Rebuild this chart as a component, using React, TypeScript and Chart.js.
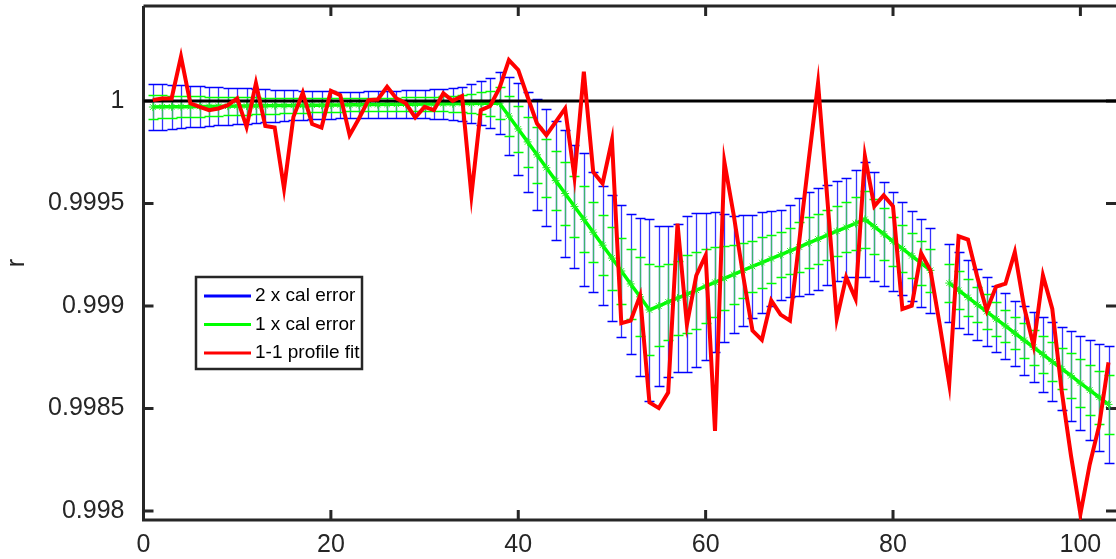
import React, { useEffect, useRef } from "react";
import { Chart, registerables } from "chart.js";

Chart.register(...registerables);

// ---------------- data ----------------
const xValues = [
  1, 2, 3, 4, 5, 6, 7, 8, 9, 10,
  11, 12, 13, 14, 15, 16, 17, 18, 19, 20,
  21, 22, 23, 24, 25, 26, 27, 28, 29, 30,
  31, 32, 33, 34, 35, 36, 37, 38, 39, 40,
  41, 42, 43, 44, 45, 46, 47, 48, 49, 50,
  51, 52, 53, 54, 55, 56, 57, 58, 59, 60,
  61, 62, 63, 64, 65, 66, 67, 68, 69, 70,
  71, 72, 73, 74, 75, 76, 77, 78, 79, 80,
  81, 82, 83, 84, 85, 86, 87, 88, 89, 90,
  91, 92, 93, 94, 95, 96, 97, 98, 99, 100,
  101, 102, 103,
];

// calibration curve (centre of the error bars)
const calCenter: (number | null)[] = [
  0.999971, 0.999972, 0.999972, 0.999973, 0.999973, 0.999974, 0.999974, 0.999975, 0.999975, 0.999976,
  0.999976, 0.999977, 0.999977, 0.999978, 0.999978, 0.999979, 0.999979, 0.99998, 0.99998, 0.999981,
  0.999981, 0.999982, 0.999982, 0.999983, 0.999983, 0.999984, 0.999984, 0.999985, 0.999985, 0.999986,
  0.999986, 0.999987, 0.999987, 0.999988, 0.999988, 0.999989, 0.99999, 0.99999, 0.999927, 0.999864,
  0.999801, 0.999738, 0.999675, 0.999612, 0.999549, 0.999486, 0.999423, 0.99936, 0.999297, 0.999234,
  0.999171, 0.999108, 0.999045, 0.998981, 0.999, 0.99902, 0.999039, 0.999058, 0.999077, 0.999097,
  0.999116, 0.999135, 0.999154, 0.999174, 0.999193, 0.999212, 0.999231, 0.99925, 0.999269, 0.999288,
  0.999308, 0.999327, 0.999346, 0.999365, 0.999384, 0.999403, 0.999423, 0.999387, 0.999352, 0.999316,
  0.99928, 0.999245, 0.999209, 0.999174, null, 0.999112, 0.999077, 0.999042, 0.999007, 0.998973,
  0.998937, 0.998903, 0.998868, 0.998833, 0.998799, 0.998764, 0.998729, 0.998694, 0.99866, 0.998624,
  0.99859, 0.998555, 0.99852,
];

// 1 x calibration error, in units of 1e-6
const calErrorPpm: (number | null)[] = [
  57, 55.5, 53.8, 52.3, 50.9, 49.4, 47.9, 46.5, 45.2, 44,
  42.8, 41.6, 40.3, 39.1, 37.9, 36.7, 35.7, 34.7, 33.7, 33,
  32.5, 32.3, 32.3, 32.3, 32.5, 32.8, 33.3, 33.7, 34.2, 35,
  35.9, 37.2, 39.1, 41.6, 46.5, 53.8, 61.1, 76.5, 95.6, 113,
  122.3, 135.5, 142.3, 145.7, 155, 150.4, 161.4, 146.7, 145.5, 154,
  161.6, 170.7, 192.2, 221.8, 195.6, 184.1, 181.4, 189.5, 188.3, 179.5,
  170.9, 156, 141.8, 134.5, 126.2, 122.5, 116.6, 110, 112.5, 119.8,
  124.5, 124, 121.5, 121.8, 121.3, 129.6, 140.1, 133.5, 126.9, 120.3,
  113.7, 109.5, 106.8, 103.4, null, 94.6, 93.2, 90.2, 87.3, 84.1,
  81.4, 80, 79.5, 84.6, 85.6, 90.7, 95.8, 101, 110.3, 115.6,
  122.5, 130.1, 143.3,
];

// 1-1 profile fit
const profileFit: number[] = [
  1.000005, 1.000013, 1.000013, 1.000217, 0.999989, 0.999972, 0.999956, 0.999964, 0.99998, 1.000013,
  0.999874, 1.000087, 0.999878, 0.999871, 0.999573, 0.999923, 1.000041, 0.999888, 0.999871, 1.00005,
  1.000029, 0.999834, 0.999915, 1.000005, 1.000008, 1.00007, 1.000013, 0.999989, 0.99992, 0.999972,
  0.999956, 1.000038, 1.000001, 1.000024, 0.99954, 0.999956, 0.999976, 1.000064, 1.0002, 1.000152,
  1.00002, 0.999891, 0.999834, 0.999899, 0.999964, 0.99963, 1.000143, 0.999654, 0.999598, 0.999809,
  0.998916, 0.998929, 0.999051, 0.99853, 0.998502, 0.998578, 0.999402, 0.99891, 0.999149, 0.999247,
  0.998391, 0.999703, 0.999443, 0.999149, 0.99888, 0.998835, 0.999027, 0.998958, 0.998929, 0.99932,
  0.999711, 1.000087, 0.999516, 0.998937, 0.999141, 0.999035, 0.999731, 0.999487, 0.99954, 0.999487,
  0.998986, 0.999002, 0.999258, 0.999174, 0.998905, 0.99862, 0.99934, 0.999324, 0.999141, 0.998978,
  0.999095, 0.999109, 0.999263, 0.998994, 0.998807, 0.999149, 0.998986, 0.998587, 0.998269, 0.997985,
  0.998228, 0.998416, 0.998725,
];

// reference line r = 1
const refLineX = [0, 104];
const refLineY = [1, 1];

const xTicks = [0, 20, 40, 60, 80, 100];
const xTickLabels = ["0", "20", "40", "60", "80", "100"];
const yTicks = [0.998, 0.9985, 0.999, 0.9995, 1];
const yTickLabels = ["0.998", "0.9985", "0.999", "0.9995", "1"];

const xRange = [0, 103.8];
const yRange = [0.997956, 1.000464];

const legendLabels = ["2 x cal error", "1 x cal error", "1-1 profile fit"];
const errorMultipliers = [2, 1];

// ---------------- styles ----------------
const FONT = "'Liberation Sans', Arial, Helvetica, sans-serif";
const AXIS_COLOR = "#262626";
const BLUE = "#0000ff";
const GREEN = "#00ff00";
const RED = "#ff0000";
const legendColors = [BLUE, GREEN, RED];

const errorBarPlugin = {
  id: "calErrorBars",
  beforeDatasetsDraw(chart: any) {
    const { ctx, chartArea, scales } = chart;
    const xs = scales.x;
    const ys = scales.y;
    ctx.save();
    ctx.beginPath();
    ctx.rect(chartArea.left, chartArea.top, chartArea.right - chartArea.left, chartArea.bottom - chartArea.top);
    ctx.clip();
    const drawBars = (mult: number, capColor: string, stemColor: string) => {
      ctx.lineWidth = 1.3;
      const cap = 5;
      const stems = new Path2D();
      const caps = new Path2D();
      xValues.forEach((xv, i) => {
        const c = calCenter[i];
        const e = calErrorPpm[i];
        if (c == null || e == null) return;
        const px = Math.round(xs.getPixelForValue(xv)) + 0.5;
        const yt = Math.round(ys.getPixelForValue(c + mult * e * 1e-6)) + 0.5;
        const yb = Math.round(ys.getPixelForValue(c - mult * e * 1e-6)) + 0.5;
        stems.moveTo(px, yt);
        stems.lineTo(px, yb);
        caps.moveTo(px - cap, yt);
        caps.lineTo(px + cap, yt);
        caps.moveTo(px - cap, yb);
        caps.lineTo(px + cap, yb);
      });
      ctx.strokeStyle = stemColor;
      ctx.stroke(stems);
      ctx.strokeStyle = capColor;
      ctx.stroke(caps);
    };
    drawBars(errorMultipliers[0], BLUE, "#3333ff");
    drawBars(errorMultipliers[1], GREEN, "#3cb46e");
    ctx.restore();
  },
};

const axesPlugin = {
  id: "boxAxes",
  beforeDatasetsDraw(chart: any) {
    const { ctx, chartArea, scales } = chart;
    const { left, right, top, bottom } = chartArea;
    const tl = 10;
    ctx.save();
    ctx.strokeStyle = AXIS_COLOR;
    ctx.lineWidth = 3;
    ctx.beginPath();
    ctx.moveTo(left, top);
    ctx.lineTo(left, bottom);
    ctx.lineTo(right + 2, bottom);
    ctx.moveTo(left, top);
    ctx.lineTo(right + 2, top);
    ctx.moveTo(right + 1.5, top);
    ctx.lineTo(right + 1.5, bottom);
    xTicks.forEach((v) => {
      const px = scales.x.getPixelForValue(v);
      ctx.moveTo(px, bottom);
      ctx.lineTo(px, bottom - tl);
      ctx.moveTo(px, top);
      ctx.lineTo(px, top + tl);
    });
    yTicks.forEach((v) => {
      const py = scales.y.getPixelForValue(v);
      ctx.moveTo(left, py);
      ctx.lineTo(left + tl, py);
      ctx.moveTo(right, py);
      ctx.lineTo(right - tl, py);
    });
    ctx.stroke();
    ctx.restore();
  },
};

const legendPlugin = {
  id: "boxLegend",
  afterDraw(chart: any) {
    const { ctx, chartArea } = chart;
    const left = chartArea.left + 52.5;
    const top = chartArea.top + 271;
    const w = 166;
    const h = 92;
    ctx.save();
    ctx.fillStyle = "#ffffff";
    ctx.fillRect(left, top, w, h);
    ctx.strokeStyle = AXIS_COLOR;
    ctx.lineWidth = 2.5;
    ctx.strokeRect(left, top, w, h);
    ctx.font = `19px ${FONT}`;
    ctx.textBaseline = "middle";
    ctx.textAlign = "left";
    legendLabels.forEach((lab, i) => {
      const cy = top + 19 + i * 28.5;
      ctx.strokeStyle = legendColors[i];
      ctx.lineWidth = 3;
      ctx.beginPath();
      ctx.moveTo(left + 8, cy);
      ctx.lineTo(left + 55, cy);
      ctx.stroke();
      ctx.fillStyle = "#000000";
      ctx.fillText(lab, left + 59, cy);
    });
    ctx.restore();
  },
};

export default function App() {
  const ref = useRef<HTMLCanvasElement>(null);

  useEffect(() => {
    document.body.style.margin = "0";
    const canvas = ref.current;
    if (!canvas) return;

    const fitData = xValues.map((x, i) => ({ x, y: profileFit[i] }));
    const calData = xValues.map((x, i) => ({ x, y: calCenter[i] }));
    const refData = refLineX.map((x, i) => ({ x, y: refLineY[i] }));

    const chart = new Chart(canvas, {
      type: "line",
      data: {
        datasets: [
          {
            label: legendLabels[2],
            data: fitData,
            borderColor: RED,
            backgroundColor: RED,
            borderWidth: 4,
            pointRadius: 0,
            tension: 0,
            borderJoinStyle: "miter",
          },
          {
            label: "r = 1",
            data: refData,
            borderColor: "#000000",
            borderWidth: 3,
            pointRadius: 0,
          },
          {
            label: legendLabels[1],
            data: calData as any,
            borderColor: GREEN,
            backgroundColor: GREEN,
            borderWidth: 3.5,
            pointStyle: "star",
            pointRadius: 4,
            pointBorderColor: "#22ee22",
            pointBorderWidth: 1,
            spanGaps: false,
          },
        ],
      },
      options: {
        animation: false,
        responsive: false,
        devicePixelRatio: 1,
        parsing: false as any,
        normalized: true,
        layout: { autoPadding: false, padding: { top: 6, left: 0, right: 0, bottom: 0 } },
        plugins: {
          legend: { display: false },
          tooltip: { enabled: false },
        },
        scales: {
          x: {
            type: "linear",
            min: xRange[0],
            max: xRange[1],
            grid: { display: false, drawTicks: false },
            border: { display: false },
            ticks: {
              font: { family: FONT, size: 25 },
              color: AXIS_COLOR,
              padding: 10,
              maxRotation: 0,
              autoSkip: false,
              callback: (v: any) => {
                const i = xTicks.indexOf(Number(v));
                return i >= 0 ? xTickLabels[i] : "";
              },
            },
            afterBuildTicks: (s: any) => {
              s.ticks = xTicks.map((v) => ({ value: v }));
            },
            afterFit: (s: any) => {
              s.height = 39;
              s.paddingLeft = 0;
              s.paddingRight = 0;
            },
          },
          y: {
            type: "linear",
            min: yRange[0],
            max: yRange[1],
            grid: { display: false, drawTicks: false },
            border: { display: false },
            ticks: {
              font: { family: FONT, size: 25 },
              color: AXIS_COLOR,
              padding: 19,
              autoSkip: false,
              callback: (v: any) => {
                const i = yTicks.findIndex((t) => Math.abs(t - Number(v)) < 1e-9);
                return i >= 0 ? yTickLabels[i] : "";
              },
            },
            afterBuildTicks: (s: any) => {
              s.ticks = yTicks.map((v) => ({ value: v }));
            },
            afterFit: (s: any) => {
              s.width = 143.5;
              s.paddingTop = 0;
              s.paddingBottom = 0;
            },
            title: {
              display: true,
              text: "r",
              font: { family: FONT, size: 25 },
              color: AXIS_COLOR,
              padding: { top: 2, bottom: 0 },
            },
          },
        },
      },
      plugins: [axesPlugin, errorBarPlugin, legendPlugin],
    });

    return () => chart.destroy();
  }, []);

  return (
    <div style={{ width: 1116, height: 559 }}>
      <canvas ref={ref} width={1116} height={559} style={{ display: "block" }} />
    </div>
  );
}
